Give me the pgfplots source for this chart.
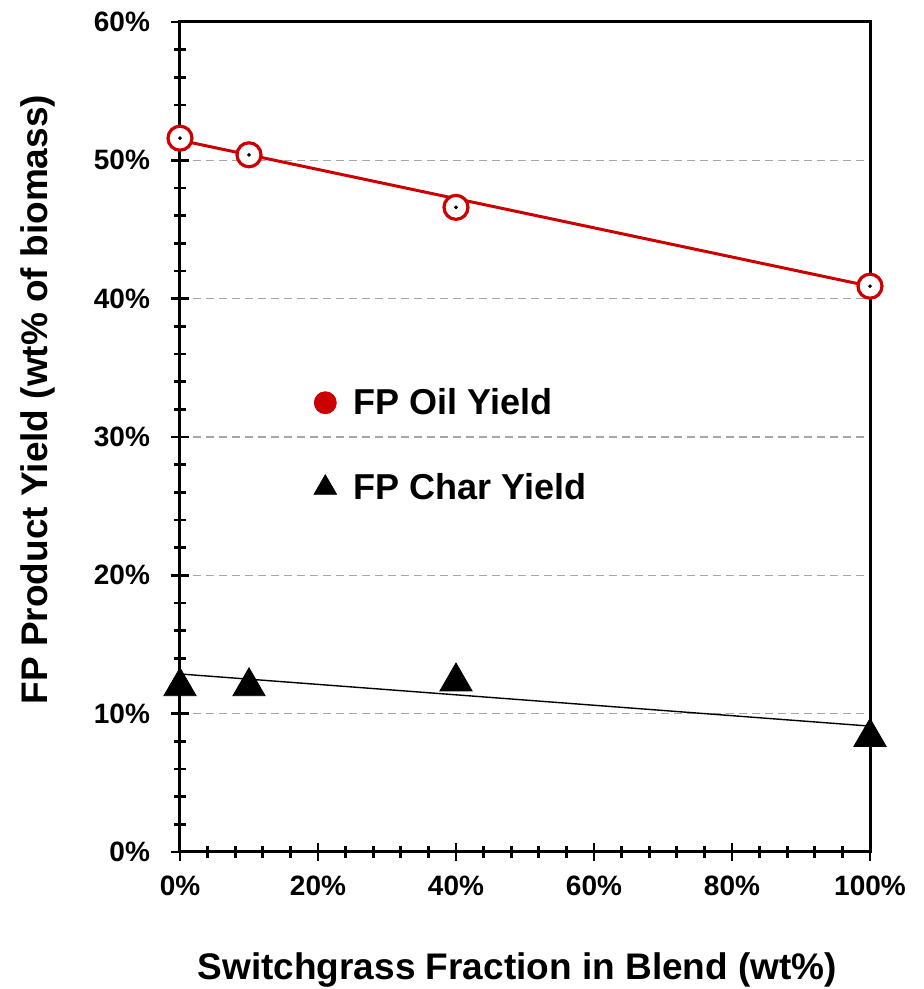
\documentclass[border=0pt]{standalone}
\usepackage{fontspec}
\setmainfont{Liberation Sans}
\usepackage{pgfplots}
\pgfplotsset{compat=1.18}
\definecolor{oilred}{RGB}{204,0,0}
\begin{document}
\begin{tikzpicture}
\useasboundingbox (-90pt,-68.5pt) rectangle (371.5pt,426pt);
\begin{axis}[
  scale only axis, width=345pt, height=415pt,
  anchor=south west, at={(0pt,0pt)},
  xmin=0, xmax=100, ymin=0, ymax=60,
  axis line style={line width=1.5pt},
  xtick={0,20,40,60,80,100},
  xticklabels={0\%,20\%,40\%,60\%,80\%,100\%},
  ytick={0,10,20,30,40,50,60},
  yticklabels={0\%,10\%,20\%,30\%,40\%,50\%,60\%},
  minor x tick num=4, minor y tick num=4,
  tick align=center, xtick pos=bottom, ytick pos=left,
  major tick length=9pt, minor tick length=6pt,
  every tick/.style={black, line width=1.4pt},
  tick label style={font=\fontsize{14}{16}\selectfont\bfseries},
  yticklabel style={anchor=east, xshift=-7pt},
  xticklabel style={anchor=north, yshift=-4pt},
  ymajorgrids,
  major grid style={black!35, line width=0.6pt, dash pattern=on 4pt off 2.5pt},
  xlabel={Switchgrass Fraction in Blend (wt\%)},
  ylabel={FP Product Yield (wt\% of biomass)},
  every axis x label/.style={at={(axis description cs:0.489,-0.1542)}, anchor=base,
    font=\fontsize{18.5}{20}\selectfont\bfseries},
  every axis y label/.style={at={(axis description cs:-0.1913,0.545)}, rotate=90, anchor=base,
    font=\fontsize{18.5}{20}\selectfont\bfseries},
  legend style={draw=none, fill=none, at={(axis description cs:0.185,0.49)}, anchor=west,
    font=\fontsize{18}{20}\selectfont\bfseries, row sep=24pt, column sep=6.5pt},
  legend cell align=left,
]
\addlegendimage{only marks, mark=*, mark size=5.5pt, color=oilred}
\addlegendentry{FP Oil Yield}
\addlegendimage{only marks, mark=triangle*, mark size=6.5pt, color=black}
\addlegendentry{FP Char Yield}

% trend lines
\addplot[forget plot, oilred, line width=1.5pt] coordinates {(0,51.45) (100,40.9)};
\addplot[forget plot, black, line width=0.7pt] coordinates {(0,12.87) (100,9.1)};
% data
\addplot[forget plot, only marks, mark=*, mark size=6pt,
  mark options={draw=oilred, fill=white, line width=1.6pt}]
  coordinates {(0,51.6) (10,50.4) (40,46.6) (100,40.9)};
\addplot[forget plot, only marks, mark=*, mark size=0.7pt, black]
  coordinates {(0,51.6) (10,50.4) (40,46.6) (100,40.9)};
\addplot[forget plot, only marks, mark=triangle*, mark size=9.3pt, black,
  mark options={yshift=-2.3pt}]
  coordinates {(0,12.3) (10,12.3) (40,12.65) (100,8.64)};
\end{axis}
\end{tikzpicture}
\end{document}
